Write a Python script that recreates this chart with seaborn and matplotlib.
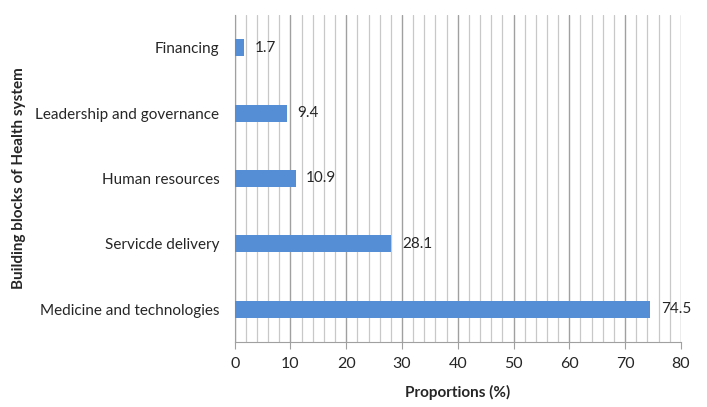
import numpy as np
import pandas as pd
import matplotlib.pyplot as plt
from matplotlib.ticker import MultipleLocator
import seaborn as sns

categories = ["Financing", "Leadership and governance", "Human resources",
              "Servicde delivery", "Medicine and technologies"]
proportions = [1.7, 9.4, 10.9, 28.1, 74.5]


def main() -> None:
    sns.set_style("white")
    plt.rcParams['font.family'] = ['Lato', 'DejaVu Sans']
    df = pd.DataFrame({"block": categories, "prop": proportions})

    fig = plt.figure(figsize=(7.07, 4.07), dpi=100)
    ax = fig.add_axes([0.332, 0.160, 0.631, 0.803])
    sns.barplot(data=df, y="block", x="prop", orient="h", color="#558ED5",
                saturation=1, width=0.26, linewidth=0, ax=ax, zorder=3)

    ax.set_xlim(0, 80)
    ax.set_ylim(4.5, -0.5)
    ax.xaxis.set_major_locator(MultipleLocator(10))
    ax.xaxis.set_minor_locator(MultipleLocator(2))
    ax.grid(axis="x", which="minor", color="#c8c8c8", lw=0.9, zorder=0)
    ax.grid(axis="x", which="major", color="#a0a0a0", lw=1.0, zorder=0)
    ax.set_axisbelow(True)

    for s in ["top", "right"]:
        ax.spines[s].set_visible(False)
    ax.spines["left"].set_color("#a0a0a0")
    ax.spines["bottom"].set_color("#a0a0a0")
    ax.tick_params(axis="x", which="major", length=5, color="#a0a0a0",
                   labelsize=11.5, bottom=True, pad=6)
    ax.tick_params(axis="x", which="minor", length=0)
    ax.tick_params(axis="y", length=0, labelsize=11, pad=11)

    for i, v in enumerate(proportions):
        ax.text(v + 1.9, i, f"{v}", va="center", ha="left", fontsize=11)

    ax.set_xlabel("Proportions (%)", fontsize=11, fontweight="bold", labelpad=10)
    ax.set_ylabel("Building blocks of Health system", fontsize=11,
                  fontweight="bold")
    ax.yaxis.set_label_coords(-0.468, 0.5)

    fig.savefig("out.png", dpi=100)


if __name__ == "__main__":
    main()
